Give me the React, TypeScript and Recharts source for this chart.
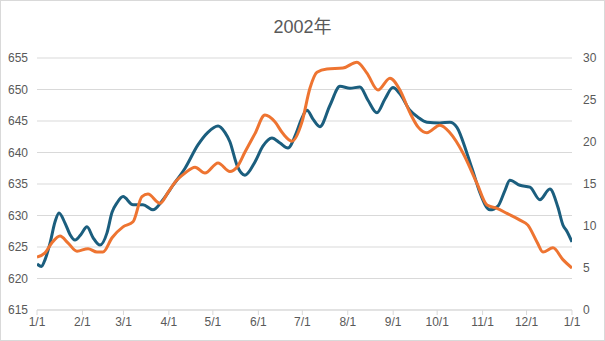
import React from "react";
import {
  CartesianGrid,
  Line,
  LineChart,
  XAxis,
  YAxis,
} from "recharts";

// day of year (0 = 1/1) and values
const blueDays = [
  0, 3, 5.5, 8.9, 12.3, 15, 19.1, 22.5, 25.9, 30, 34.1, 38.2, 43, 47.7, 51.2,
  54.6, 58.7, 65.5, 72.3, 79.1, 85.3, 92.8, 101, 109.8, 116.6, 123.5, 128.2,
  131.6, 136.4, 141.9, 148.7, 154.1, 160.3, 165.8, 171.2, 176.7, 180.8, 184.2,
  188.3, 193, 199.9, 206.7, 213.5, 220.3, 225.8, 231.9, 237.4, 242.8, 247.6,
  254.4, 259.9, 266, 274.9, 281.7, 286.5, 293.3, 298.8, 302.2, 309, 314.5,
  319.3, 322.6, 329.5, 336.3, 343.1, 349.9, 355.4, 358.8, 361.5, 365,
];
const blueValues = [
  622.3, 621.9, 623.0, 625.6, 629.0, 630.4, 628.8, 627.0, 626.1, 627.0, 628.2,
  626.5, 625.3, 627.2, 630.5, 632.0, 633.0, 631.7, 631.7, 630.9, 632.3, 634.8,
  637.5, 641.2, 643.2, 644.2, 643.2, 641.7, 638.0, 636.4, 638.5, 641.0, 642.3,
  641.5, 640.7, 643.0, 645.5, 646.7, 645.3, 644.1, 647.5, 650.5, 650.2, 650.4,
  648.3, 646.3, 648.5, 650.3, 649.3, 646.7, 645.6, 644.8, 644.7, 644.8, 644.0,
  639.9, 636.0, 633.6, 630.9, 631.5, 634.0, 635.6, 634.8, 634.5, 632.5, 634.2,
  631.3, 628.5, 627.5, 625.8,
];

const orangeDays = [
  0, 5.5, 10.2, 15.7, 21.1, 27.3, 34.8, 40.9, 45, 51.2, 58.7, 65.5, 71.6,
  75.7, 83.9, 89.4, 94.1, 101, 107.8, 114.6, 123.5, 131.6, 136.4, 141.9, 148.7,
  155.5, 162.3, 167.8, 173.9, 180.8, 186.2, 191, 197.8, 208.7, 218.3, 225.1,
  232.6, 240.8, 247.6, 254.4, 259.9, 266, 274.9, 281.7, 290.6, 300.1, 307,
  313.8, 320.6, 329.5, 334.9, 341.1, 345.2, 352, 358.8, 365,
];
const orangeValues = [
  6.3, 6.8, 8.0, 8.8, 8.0, 7.0, 7.3, 6.9, 6.9, 8.6, 9.9, 10.5, 13.5, 13.8,
  12.7, 14.0, 15.2, 16.3, 17.0, 16.3, 17.5, 16.5, 17.0, 18.8, 21.0, 23.2,
  22.4, 21.0, 20.1, 22.4, 26.4, 28.3, 28.7, 28.8, 29.5, 28.2, 26.2, 27.6,
  26.2, 23.5, 21.8, 21.1, 22.0, 21.1, 18.7, 15.1, 12.5, 12.1, 11.5, 10.7,
  10.1, 8.1, 6.9, 7.4, 6.0, 5.0,
];

const monthTicks = [0, 31, 59, 90, 120, 151, 181, 212, 243, 273, 304, 334, 365];
const monthLabels = [
  "1/1", "2/1", "3/1", "4/1", "5/1", "6/1", "7/1",
  "8/1", "9/1", "10/1", "11/1", "12/1", "1/1",
];
const leftTicks = [615, 620, 625, 630, 635, 640, 645, 650, 655];
const rightTicks = [0, 5, 10, 15, 20, 25, 30];

const blueData = blueDays.map((day, i) => ({ day, value: blueValues[i] }));
const orangeData = orangeDays.map((day, i) => ({ day, value: orangeValues[i] }));

const font = '"Liberation Sans", Arial, "Noto Sans CJK SC", sans-serif';
const tickStyle = { fontSize: 12, fill: "#595959", fontFamily: font };

export default function App() {
  return (
    <div
      style={{
        position: "absolute",
        left: 0,
        top: 0,
        width: 605,
        height: 341,
        background: "#fff",
      }}
    >
      <div
        style={{
          position: "absolute",
          top: 17,
          left: 0,
          width: 605,
          textAlign: "center",
          fontFamily: font,
          fontSize: 18,
          lineHeight: "20px",
          color: "#595959",
        }}
      >
        2002年
      </div>
      <LineChart
        width={605}
        height={341}
        margin={{ top: 58, right: 0, bottom: 0, left: 0 }}
      >
        <CartesianGrid yAxisId="left" vertical={false} stroke="#d9d9d9" />
        <XAxis
          dataKey="day"
          type="number"
          domain={[0, 365]}
          ticks={monthTicks}
          tickFormatter={(v: number) => monthLabels[monthTicks.indexOf(v)]}
          height={31}
          stroke="#d9d9d9"
          tickSize={5}
          tickMargin={2}
          tick={tickStyle}
          allowDataOverflow
        />
        <YAxis
          yAxisId="left"
          domain={[615, 655]}
          ticks={leftTicks}
          width={37}
          axisLine={false}
          tickLine={false}
          tickSize={0}
          tickMargin={9}
          tick={tickStyle}
        />
        <YAxis
          yAxisId="right"
          orientation="right"
          domain={[0, 30]}
          ticks={rightTicks}
          width={33}
          axisLine={false}
          tickLine={false}
          tickSize={0}
          tickMargin={11}
          tick={tickStyle}
        />
        <Line
          yAxisId="left"
          data={blueData}
          dataKey="value"
          type="monotone"
          stroke="#1b5e7e"
          strokeWidth={3}
          dot={false}
          isAnimationActive={false}
        />
        <Line
          yAxisId="right"
          data={orangeData}
          dataKey="value"
          type="monotone"
          stroke="#ee7431"
          strokeWidth={3}
          dot={false}
          isAnimationActive={false}
        />
      </LineChart>
      <div
        style={{
          position: "absolute",
          left: 0,
          top: 0,
          width: 605,
          height: 341,
          boxSizing: "border-box",
          border: "1px solid #d9d9d9",
          pointerEvents: "none",
        }}
      />
    </div>
  );
}
